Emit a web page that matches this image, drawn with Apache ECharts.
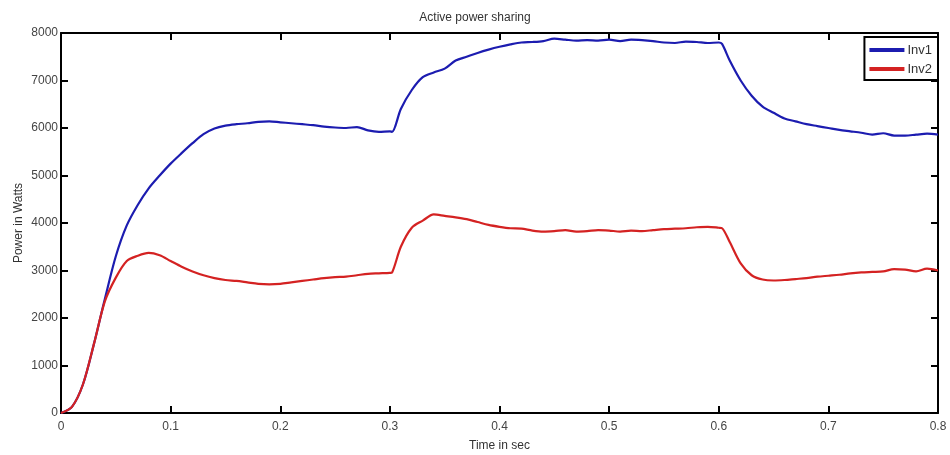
<!DOCTYPE html>
<html>
<head>
<meta charset="utf-8">
<script src="https://cdn.jsdelivr.net/npm/echarts@6/dist/echarts.min.js"></script>
<style>
	html, body { margin: 0; padding: 0; background: #fff; }
	#chart { width: 950px; height: 455px; }
</style>
</head>
<body>
<div id="chart"></div>
<script>
// time axis (sec)
var time = [0, 0.01, 0.02, 0.03, 0.04, 0.05, 0.06, 0.07, 0.08, 0.09,
	0.10, 0.11, 0.12, 0.13, 0.14, 0.15, 0.16, 0.17, 0.18, 0.19,
	0.20, 0.21, 0.22, 0.23, 0.24, 0.25, 0.26, 0.27, 0.28, 0.29,
	0.30, 0.302, 0.31, 0.32, 0.33, 0.34, 0.35, 0.36, 0.37, 0.38, 0.39,
	0.40, 0.41, 0.42, 0.43, 0.44, 0.45, 0.46, 0.47, 0.48, 0.49,
	0.50, 0.51, 0.52, 0.53, 0.54, 0.55, 0.56, 0.57, 0.58, 0.59,
	0.60, 0.603, 0.61, 0.62, 0.63, 0.64, 0.65, 0.66, 0.67, 0.68, 0.69,
	0.70, 0.71, 0.72, 0.73, 0.74, 0.75, 0.76, 0.77, 0.78, 0.79, 0.80];

var inv1 = [0, 130, 600, 1450, 2400, 3300, 3950, 4380, 4730, 5000,
	5250, 5470, 5680, 5870, 5990, 6050, 6080, 6100, 6130, 6140,
	6120, 6100, 6080, 6060, 6030, 6010, 6000, 6020, 5950, 5920,
	5930, 5920, 6400, 6800, 7070, 7170, 7250, 7420, 7500, 7580, 7650,
	7710, 7760, 7800, 7810, 7830, 7880, 7860, 7840, 7850, 7840,
	7860, 7830, 7860, 7850, 7830, 7800, 7790, 7820, 7810, 7790,
	7800, 7770, 7420, 7000, 6680, 6450, 6320, 6200, 6140, 6080, 6040,
	6000, 5960, 5930, 5900, 5860, 5890, 5840, 5840, 5860, 5880, 5860];

var inv2 = [0, 130, 600, 1450, 2350, 2850, 3200, 3310, 3370, 3320,
	3200, 3080, 2980, 2900, 2840, 2800, 2780, 2750, 2720, 2710,
	2720, 2750, 2780, 2810, 2840, 2860, 2870, 2900, 2930, 2940,
	2950, 2960, 3500, 3900, 4050, 4180, 4150, 4120, 4080, 4020, 3960,
	3920, 3890, 3880, 3840, 3820, 3830, 3850, 3820, 3830, 3850,
	3840, 3820, 3840, 3830, 3850, 3870, 3880, 3890, 3910, 3920,
	3900, 3890, 3600, 3150, 2900, 2810, 2790, 2800, 2820, 2840, 2870,
	2890, 2910, 2940, 2960, 2970, 2980, 3030, 3020, 2980, 3040, 3000];

var seriesNames = ['Inv1', 'Inv2'];

function pairs(vals) {
	var out = [];
	for (var i = 0; i < time.length; i++) out.push([time[i], vals[i]]);
	return out;
}

var myChart = echarts.init(document.getElementById('chart'));
var fontFam = '"Liberation Sans", Arial, sans-serif';
var axisBase = {
	axisLine: { show: true, onZero: false, lineStyle: { color: '#000', width: 2 } },
	axisTick: { show: true, inside: true, length: 7, lineStyle: { color: '#000', width: 2 } },
	splitLine: { show: false }
};

var option = {
	animation: false,
	backgroundColor: '#fff',
	title: {
		text: 'Active power sharing',
		left: 'center',
		top: 7,
		textStyle: { fontFamily: fontFam, fontSize: 12, fontWeight: 'normal', color: '#333' }
	},
	legend: {
		data: seriesNames,
		orient: 'vertical',
		right: 12,
		top: 37,
		backgroundColor: '#fff',
		borderColor: '#000',
		borderWidth: 2,
		borderRadius: 0,
		padding: [6, 6, 4, 5],
		itemGap: 5,
		itemWidth: 35,
		itemHeight: 4,
		icon: 'rect',
		textStyle: { fontFamily: fontFam, fontSize: 13, lineHeight: 14, color: '#333', padding: [0, 0, 0, -2] }
	},
	grid: { left: 61, right: 12, top: 33, bottom: 42, containLabel: false, outerBoundsMode: 'none' },
	xAxis: [
		Object.assign({}, axisBase, {
			type: 'value', min: 0, max: 0.8, interval: 0.1, position: 'bottom',
			name: 'Time in sec', nameLocation: 'middle', nameGap: 27, nameMoveOverlap: false,
			nameTextStyle: { fontFamily: fontFam, fontSize: 12, color: '#333' },
			axisLabel: {
				fontFamily: fontFam, fontSize: 12, color: '#444', margin: 8,
				formatter: function (v) { return v === 0 ? '0' : v.toFixed(1); }
			}
		}),
		Object.assign({}, axisBase, {
			type: 'value', min: 0, max: 0.8, interval: 0.1, position: 'top',
			axisLabel: { show: false }
		})
	],
	yAxis: [
		Object.assign({}, axisBase, {
			type: 'value', min: 0, max: 8000, interval: 1000, position: 'left',
			name: 'Power in Watts', nameLocation: 'middle', nameGap: 36, nameMoveOverlap: false,
			nameTextStyle: { fontFamily: fontFam, fontSize: 12, color: '#333' },
			axisLabel: {
				fontFamily: fontFam, fontSize: 12, color: '#444', margin: 3,
				formatter: function (v) { return String(v); }
			}
		}),
		Object.assign({}, axisBase, {
			type: 'value', min: 0, max: 8000, interval: 1000, position: 'right',
			axisLabel: { show: false }
		})
	],
	series: [
		{
			name: seriesNames[0],
			type: 'line',
			data: pairs(inv1),
			showSymbol: false,
			smooth: 0.3,
			color: '#1c1cb0',
			lineStyle: { width: 2.2 },
			z: 3
		},
		{
			name: seriesNames[1],
			type: 'line',
			data: pairs(inv2),
			showSymbol: false,
			smooth: 0.3,
			color: '#d42222',
			lineStyle: { width: 2.2 },
			z: 4
		}
	]
};

myChart.setOption(option);
</script>
</body>
</html>
